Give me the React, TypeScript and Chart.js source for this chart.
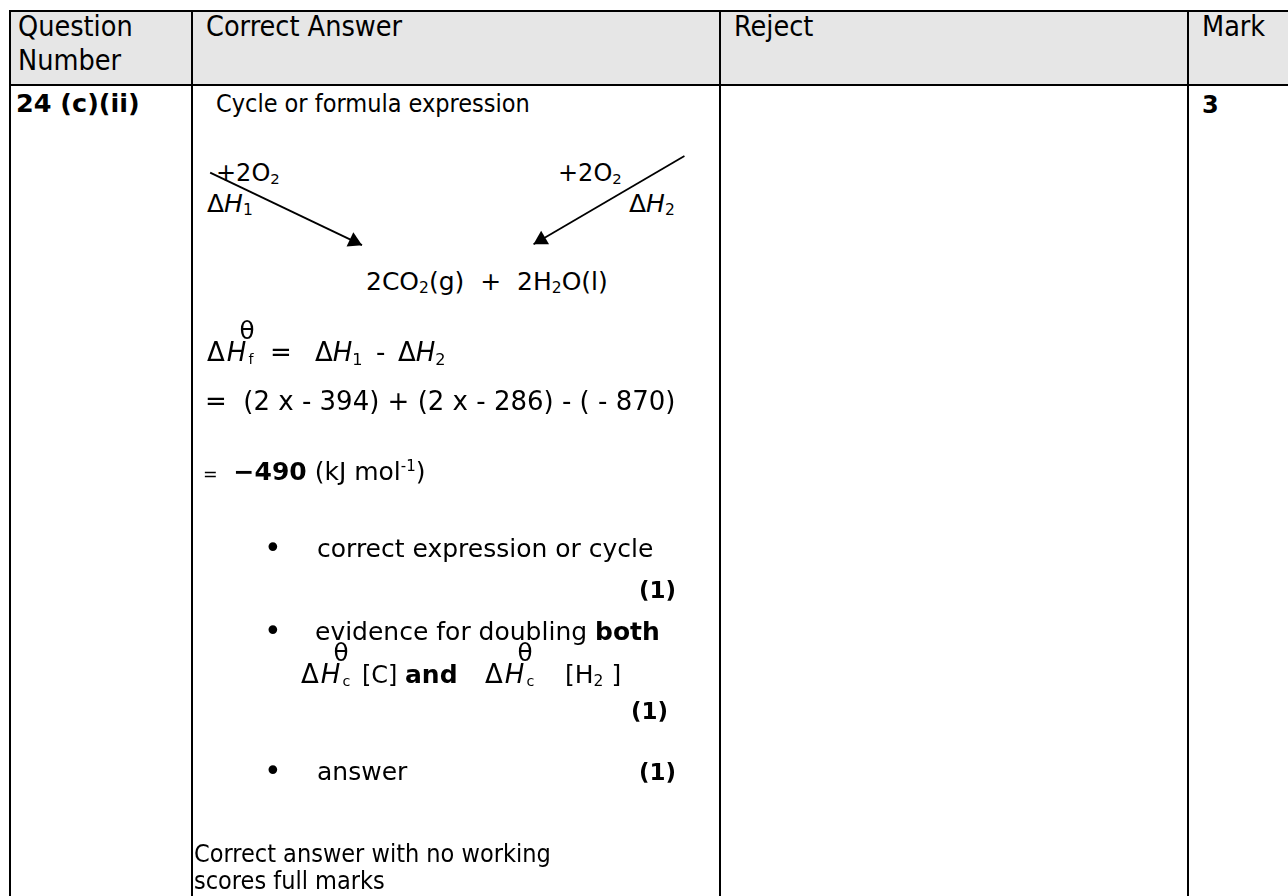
import React, { useEffect, useRef } from "react";
import { Chart, registerables } from "chart.js";

Chart.register(...registerables);

// ---------- data ----------
const headerLabels = ["Question", "Number", "Correct Answer", "Reject", "Mark"];
const questionNumber = "24 (c)(ii)";
const totalMark = 3;
const combustionC = -394;
const combustionH2 = -286;
const combustionCompound = -870;
const answerValue = -490;
const pointMarks = [1, 1, 1];
// cycle arrows (page pixel space used as the chart's data space)
const arrowStartX = [204, 685];
const arrowStartY = [167, 150];
const arrowEndX = [358, 532];
const arrowEndY = [241, 240];

const W = 1288;
const H = 896;
const HEAD = 9;

const NARROW = '"DejaVu Sans Condensed","Liberation Sans Narrow","Liberation Sans",Arial,sans-serif';
const SANS = '"DejaVu Sans",Verdana,sans-serif';

type TP = {
  x?: number;
  right?: number;
  y: number;
  size: number;
  family?: string;
  weight?: number;
  italic?: boolean;
  children: React.ReactNode;
};

function T({ x, right, y, size, family = SANS, weight = 400, italic = false, children }: TP) {
  const st: React.CSSProperties = {
    position: "absolute",
    top: y - 0.845 * size,
    fontSize: size,
    lineHeight: `${size}px`,
    fontFamily: family,
    fontWeight: weight,
    fontStyle: italic ? "italic" : "normal",
    whiteSpace: "pre",
    color: "#000",
  };
  if (right !== undefined) st.right = W - right;
  else st.left = x;
  return <div style={st}>{children}</div>;
}

const Sub = ({ children }: { children: React.ReactNode }) => (
  <span style={{ fontSize: "0.62em", position: "relative", top: "0.22em" }}>{children}</span>
);
const Sup = ({ children }: { children: React.ReactNode }) => (
  <span style={{ fontSize: "0.6em", position: "relative", top: "-0.6em" }}>{children}</span>
);
const I = ({ children }: { children: React.ReactNode }) => <span style={{ fontStyle: "italic" }}>{children}</span>;

// ΔH with standard-state symbol and subscript, placed by its left x
function DeltaHStd({ x, y, sub, size = 26 }: { x: number; y: number; sub: string; size?: number }) {
  return (
    <>
      <T x={x} y={y} size={size}>
        Δ<span style={{ fontStyle: "italic", marginLeft: 2 }}>H</span>
      </T>
      <T x={x + 1.25 * size} y={y - 0.8 * size} size={size * 0.95}>θ</T>
      <T x={x + 1.6 * size} y={y + 3} size={size * 0.55}>{sub}</T>
    </>
  );
}

function Arrows() {
  const ref = useRef<HTMLCanvasElement>(null);
  useEffect(() => {
    if (!ref.current) return;
    const lineSets = arrowStartX.map((sx, i) => ({
      data: [
        { x: sx, y: arrowStartY[i] },
        { x: arrowEndX[i], y: arrowEndY[i] },
      ],
      showLine: true,
      borderColor: "#000",
      borderWidth: 1.8,
      pointRadius: 0,
      clip: false as any,
    }));
    const heads = {
      data: arrowEndX.map((ex, i) => {
        const dx = ex - arrowStartX[i];
        const dy = arrowEndY[i] - arrowStartY[i];
        const L = Math.hypot(dx, dy);
        return { x: ex - (HEAD * dx) / L, y: arrowEndY[i] - (HEAD * dy) / L };
      }),
      showLine: false,
      pointStyle: "triangle" as const,
      pointRadius: HEAD,
      pointRotation: arrowEndX.map(
        (ex, i) => (Math.atan2(ex - arrowStartX[i], -(arrowEndY[i] - arrowStartY[i])) * 180) / Math.PI
      ),
      backgroundColor: "#000",
      borderColor: "#000",
      borderWidth: 0,
      clip: false as any,
    };
    const chart = new Chart(ref.current, {
      type: "scatter",
      data: { datasets: [...lineSets, heads] as any },
      options: {
        animation: false,
        responsive: false,
        maintainAspectRatio: false,
        events: [],
        layout: { padding: 0 },
        plugins: { legend: { display: false }, tooltip: { enabled: false } },
        scales: {
          x: { type: "linear", min: 0, max: W, display: false },
          y: { type: "linear", min: 0, max: H, reverse: true, display: false },
        },
      },
    });
    return () => chart.destroy();
  }, []);
  return (
    <canvas
      ref={ref}
      width={W}
      height={H}
      style={{ position: "absolute", left: 0, top: 0, width: W, height: H, pointerEvents: "none" }}
    />
  );
}

const fmt = (v: number) => `- ${Math.abs(v)}`;

export default function App() {
  const line = (l: number, t: number, w: number, h: number) => (
    <div style={{ position: "absolute", left: l, top: t, width: w, height: h, background: "#000" }} />
  );
  const colX = [9, 191, 719, 1187];
  const top = 10;
  const headBottom = 84;
  return (
    <div
      style={{
        position: "fixed",
        left: 0,
        top: 0,
        width: W,
        height: H,
        overflow: "hidden",
        background: "#fff",
      }}
    >
      <div style={{ position: "absolute", left: colX[0], top, width: W - colX[0], height: headBottom - top, background: "#e6e6e6" }} />
      {line(colX[0], top, W - colX[0], 2)}
      {line(colX[0], headBottom, W - colX[0], 2)}
      {colX.map((x) => (
        <React.Fragment key={x}>{line(x, top, 2, H - top)}</React.Fragment>
      ))}

      {/* header */}
      <T x={18} y={37} size={28.5} family={NARROW}>{headerLabels[0]}</T>
      <T x={18} y={71} size={28.5} family={NARROW}>{headerLabels[1]}</T>
      <T x={206} y={37} size={28.5} family={NARROW}>{headerLabels[2]}</T>
      <T x={734} y={37} size={28.5} family={NARROW}>{headerLabels[3]}</T>
      <T x={1202} y={37} size={28.5} family={NARROW}>{headerLabels[4]}</T>

      {/* row */}
      <T x={16} y={113} size={25.5} weight={700}>{questionNumber}</T>
      <T x={216} y={112} size={25} family={NARROW}>Cycle or formula expression</T>
      <T x={1202} y={113} size={24} weight={700}>{String(totalMark)}</T>

      {/* cycle */}
      <T x={216} y={181} size={24}>+2O<Sub>2</Sub></T>
      <T x={207} y={212} size={25}>Δ<I>H</I><Sub>1</Sub></T>
      <T x={558} y={181} size={24}>+2O<Sub>2</Sub></T>
      <T x={629} y={212} size={25}>Δ<I>H</I><Sub>2</Sub></T>
      <T x={366} y={290} size={25}>2CO<Sub>2</Sub>(g)  +  2H<Sub>2</Sub>O(l)</T>
      <Arrows />

      {/* ΔHf line */}
      <DeltaHStd x={207} y={361} sub="f" />
      <T x={270} y={361} size={26}>=</T>
      <T x={315} y={361} size={26}>Δ<I>H</I><Sub>1</Sub></T>
      <T x={376} y={361} size={26}>-</T>
      <T x={398} y={361} size={26}>Δ<I>H</I><Sub>2</Sub></T>

      <T x={205} y={410} size={26}>
        {`=  (2 x ${fmt(combustionC)}) + (2 x ${fmt(combustionH2)}) - ( ${fmt(combustionCompound)})`}
      </T>
      <T x={203} y={480} size={25}>
        <span style={{ fontSize: "0.7em" }}>=</span>{"  "}
        <b>{`−${Math.abs(answerValue)}`}</b> (kJ mol<Sup>-1</Sup>)
      </T>

      <T x={264} y={558} size={30}>•</T>
      <T x={317} y={557} size={25}>correct expression or cycle</T>
      <T right={676} y={598} size={23} weight={700}>{`(${pointMarks[0]})`}</T>

      <T x={264} y={641} size={30}>•</T>
      <T x={315} y={640} size={25}>evidence for doubling <b>both</b></T>
      <DeltaHStd x={301} y={683} sub="c" />
      <T x={362} y={683} size={24}>[C]</T>
      <T x={405} y={683} size={25} weight={700}>and</T>
      <DeltaHStd x={485} y={683} sub="c" />
      <T x={565} y={683} size={25}>[H<Sub>2</Sub> ]</T>
      <T right={668} y={719} size={23} weight={700}>{`(${pointMarks[1]})`}</T>

      <T x={264} y={781} size={30}>•</T>
      <T x={317} y={780} size={25}>answer</T>
      <T right={676} y={780} size={23} weight={700}>{`(${pointMarks[2]})`}</T>

      <T x={194} y={862} size={25} family={NARROW}>Correct answer with no working</T>
      <T x={194} y={889} size={25} family={NARROW}>scores full marks</T>
    </div>
  );
}
